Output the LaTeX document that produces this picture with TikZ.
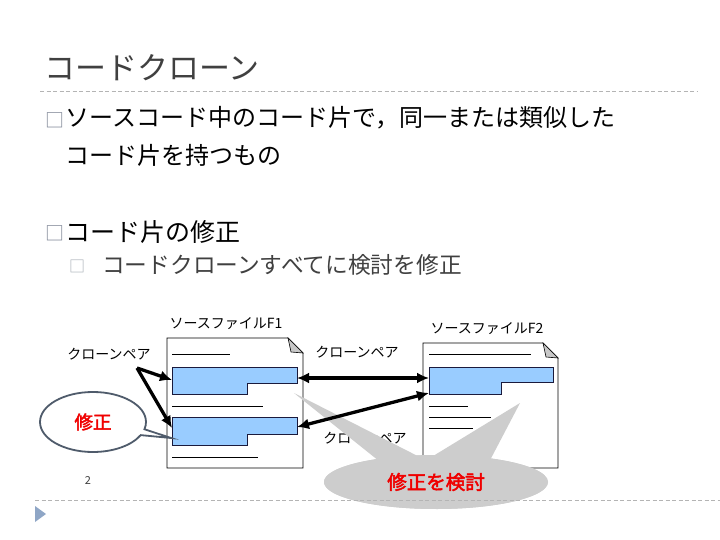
\documentclass[tikz,border=0pt]{standalone}
\usepackage{fontspec}
\setmainfont{Noto Sans CJK JP}
\newfontfamily\cjkbold[FakeBold=2.5]{Noto Sans CJK JP}
\usetikzlibrary{arrows.meta,shapes.geometric,shapes.callouts}
\definecolor{titlegray}{HTML}{404040}
\definecolor{dashgray}{HTML}{B4B4B4}
\definecolor{bulletgray}{HTML}{7C8494}
\definecolor{subbullet}{HTML}{A4ACB4}
\definecolor{blockblue}{HTML}{99CCFF}
\definecolor{blockline}{HTML}{1A1A3C}
\definecolor{foldgray}{HTML}{C8C8C8}
\definecolor{calloutline}{HTML}{4F5B6B}
\definecolor{bubblegray}{HTML}{CDCDCD}
\definecolor{alertred}{HTML}{F00000}
\definecolor{navtri}{HTML}{8FA6C6}
\tikzset{
  txt/.style={inner sep=0, anchor=west},
  lbl/.style={inner sep=0, font=\fontsize{14}{14}\selectfont},
  doc/.style={draw=black, line width=0.9pt, fill=white},
  fold/.style={draw=black, line width=0.6pt, fill=foldgray},
  block/.style={draw=blockline, line width=1pt, fill=blockblue},
  textline/.style={draw=black, line width=1pt},
  pair/.style={line width=3.3pt, -{Latex[length=12pt,width=11pt]}},
  pairboth/.style={line width=3.3pt, {Latex[length=12pt,width=11pt]}-{Latex[length=12pt,width=11pt]}},
  sep/.style={dashgray, line width=0.8pt, dash pattern=on 4pt off 2.5pt},
}
\begin{document}
\begin{tikzpicture}[x=1pt,y=-1pt]
\useasboundingbox (0,0) rectangle (720,540);
\fill[white] (0,0) rectangle (720,540);

% title
\node[txt, text=titlegray, font=\fontsize{31}{31}\selectfont] (title) at (44,68) {コードクローン};
\draw[sep] (40,91) -- (698,91);

% bullets
\node[txt, text=bulletgray, font=\fontsize{19}{19}\selectfont] (b1) at (45,120) {□};
\node[txt, font=\fontsize{24}{24}\selectfont] (l1) at (65,118) {ソースコード中のコード片で，同一または類似した};
\node[txt, font=\fontsize{24}{24}\selectfont] (l2) at (65,155) {コード片を持つもの};
\node[txt, text=bulletgray, font=\fontsize{19}{19}\selectfont] (b2) at (45,233) {□};
\node[txt, font=\fontsize{25}{25}\selectfont] (l3) at (65,232) {コード片の修正};
\node[txt, text=subbullet, font=\fontsize{16}{16}\selectfont] (b3) at (69,266) {□};
\node[txt, text=titlegray, font=\fontsize{22.7}{22.7}\selectfont] (l4) at (102,265) {コードクローンすべてに検討を修正};

% file F1
\node[lbl] (f1lbl) at (226,324) {ソースファイルF1};
\path[doc] (167,338) -- (288,338) -- (303,353) -- (303,468) -- (167,468) -- cycle;
\path[fold] (288,338) -- (303,353) -- (291,352) -- cycle;
\draw[textline] (172,354) -- (230,354);
\path[block] (172,367) -- (297,367) -- (297,383) -- (247,383) -- (247,394) -- (172,394) -- cycle;
\draw[textline] (172,406) -- (263,406);
\path[block] (172,417) -- (297,417) -- (297,434) -- (247,434) -- (247,445) -- (172,445) -- cycle;
\draw[textline] (172,457) -- (258,457);

% file F2
\node[lbl] (f2lbl) at (487,329) {ソースファイルF2};
\path[doc] (423,343) -- (543,343) -- (558,358) -- (558,468) -- (423,468) -- cycle;
\path[fold] (543,343) -- (558,358) -- (546,357) -- cycle;
\draw[textline] (429,354) -- (531,354);
\path[block] (429,367) -- (553,367) -- (553,382) -- (501,382) -- (501,394) -- (429,394) -- cycle;
\draw[textline] (429,406) -- (468,406);
\draw[textline] (429,417) -- (491,417);
\draw[textline] (429,428) -- (473,428);

% pair labels
\node[lbl] (pairA) at (109,354) {クローンペア};
\node[lbl] (pairB) at (357,352) {クローンペア};
\node[lbl] (pairC) at (365,438) {クローンペア};

% arrow anchor points
\coordinate (src) at (137,368);
\coordinate (a1) at (172,380);
\coordinate (a2) at (172,428);
\coordinate (r1) at (297,378);
\coordinate (g1) at (429,378);
\coordinate (r2) at (297,427);
\coordinate (g2) at (429,393);

% gray callout
\node[ellipse callout, fill=bubblegray, minimum width=224, minimum height=54, inner sep=0,
      callout absolute pointer={(294,393)}, callout pointer arc=22] (cb1) at (436,482) {};
\node[ellipse callout, fill=bubblegray, minimum width=224, minimum height=54, inner sep=0,
      callout absolute pointer={(520,403)}, callout pointer arc=30,
      text=alertred, font=\cjkbold\fontsize{19.5}{19.5}\selectfont] (cb2) at (436,482) {修正を検討};

% arrows
\draw[pair] (src) -- (a1);
\draw[pair] (src) -- (a2);
\draw[pairboth] (r1) -- (g1);
\draw[pairboth] (r2) -- (g2);

% modify callout
\coordinate (tip) at (171,438);
\node[ellipse callout, draw=calloutline, line width=1.8pt, fill=white, minimum width=106, minimum height=60, inner sep=0,
      callout absolute pointer={(tip)}, callout pointer arc=12,
      text=alertred, font=\cjkbold\fontsize{18.5}{18.5}\selectfont] (fix) at (93,422) {修正};

% footer
\node[inner sep=0, text=titlegray, font=\fontsize{11}{11}\selectfont] (pnum) at (88,481) {2};
\draw[sep] (35,500) -- (720,500);
\fill[navtri] (35,506) -- (46,514) -- (35,522) -- cycle;
\end{tikzpicture}
\end{document}
